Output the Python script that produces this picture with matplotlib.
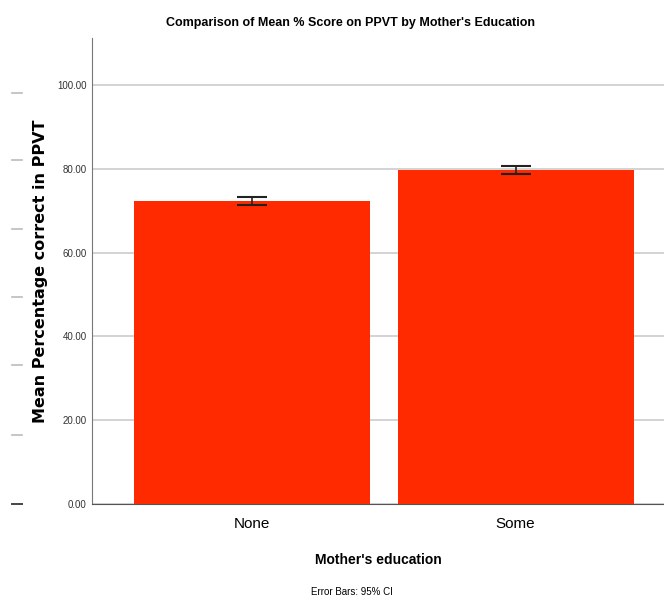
import matplotlib.pyplot as plt
from matplotlib.lines import Line2D

# Data
categories = ['None', 'Some']
means = [72.3, 79.6]
ci_low = [71.4, 78.8]
ci_high = [73.2, 80.6]
yticks = [0, 20, 40, 60, 80, 100]

narrow = 'Liberation Sans'

fig = plt.figure(figsize=(6.64, 6.03), dpi=100)
ax = fig.add_axes([0.1386, 0.164, 0.8614, 0.773])

x = range(len(categories))
yerr = [[m - lo for m, lo in zip(means, ci_low)],
        [hi - m for m, hi in zip(means, ci_high)]]

ax.bar(x, means, width=0.896, color='#ff2a00', zorder=2)
ax.errorbar(x, means, yerr=yerr, fmt='none', ecolor='#222222',
            elinewidth=1.2, capsize=10.5, capthick=1.5, zorder=3)

ax.set_xlim(-0.607, 1.563)
ax.set_ylim(0, 111.2)
ax.set_yticks(yticks)
ax.set_yticklabels([f'{v:.2f}' for v in yticks], fontsize=7,
                   family=narrow, color='#333333')
ax.set_xticks(list(x))
ax.set_xticklabels(categories, fontsize=11, family=narrow)
ax.tick_params(axis='y', length=0, pad=4)
ax.tick_params(axis='x', length=0, pad=9)

ax.yaxis.grid(True, color='#cccccc', linewidth=1.2, zorder=0)
ax.set_axisbelow(True)
for side in ['top', 'right']:
    ax.spines[side].set_visible(False)
ax.spines['left'].set_color('#777777')
ax.spines['bottom'].set_color('#555555')

ax.set_ylabel('Mean Percentage correct in PPVT', fontsize=11.5,
              fontweight='bold')
ax.yaxis.set_label_coords(-0.077, 0.5)
ax.set_xlabel("Mother's education", fontsize=10, family=narrow,
              fontweight='bold', labelpad=16)

fig.text(0.528, 0.962, "Comparison of Mean % Score on PPVT by Mother's Education",
         ha='center', va='center', fontsize=9, family=narrow,
         fontweight='bold')
fig.text(0.53, 0.01, 'Error Bars: 95% CI', ha='center', va='bottom',
         fontsize=7, family=narrow)

# stray dashes at the left edge of the original image
for ypx in [93, 160, 229, 297, 365, 435]:
    fig.add_artist(Line2D([12 / 664, 22 / 664], [1 - ypx / 603] * 2,
                          color='#bbbbbb', linewidth=1.2))
fig.add_artist(Line2D([12 / 664, 22 / 664], [1 - 504 / 603] * 2,
                      color='#444444', linewidth=1.4))

fig.savefig('out.png', dpi=100)
